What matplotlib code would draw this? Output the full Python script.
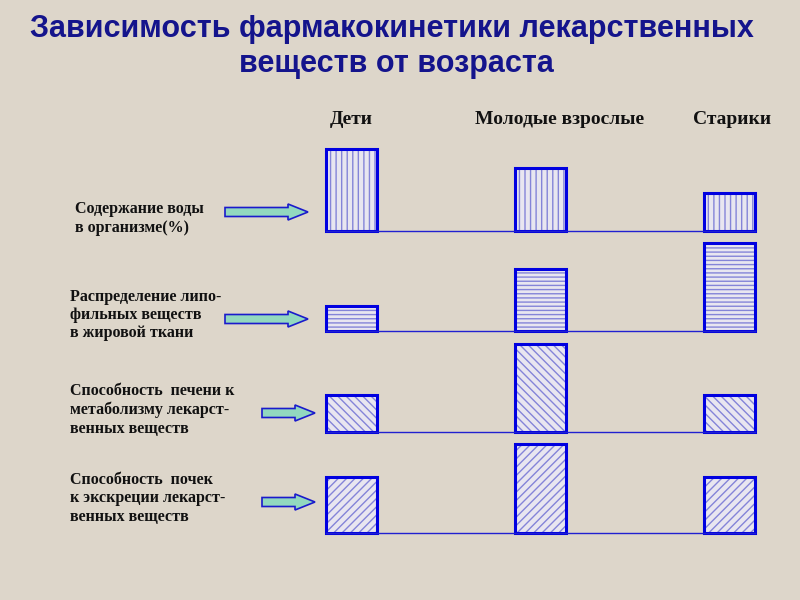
import matplotlib
matplotlib.use('Agg')
import matplotlib.pyplot as plt
from matplotlib.patches import FancyArrow

# ---- data ----
groups = ['Дети', 'Молодые взрослые', 'Старики']
row_labels = [
    'Содержание воды\nв организме(%)',
    'Распределение липо-\nфильных веществ\nв жировой ткани',
    'Способность  печени к\nметаболизму лекарст-\nвенных веществ',
    'Способность  почек\nк экскреции лекарст-\nвенных веществ',
]
water = [82, 63, 38]
lipo = [25, 62, 88]
liver = [37, 88, 37]
kidney = [56, 89, 56]
title = 'Зависимость фармакокинетики лекарственных\nвеществ от возраста'

values = [water, lipo, liver, kidney]
hatches = ['|||', '----', '\\\\\\\\', '////']

BG = '#ddd6ca'
BLUE = '#0000e0'
HATCH = '#8484d8'
FILL = '#e8e6f0'
NAVY = '#14148c'

plt.rcParams['hatch.linewidth'] = 1.0
fig = plt.figure(figsize=(8, 6), dpi=100)
fig.patch.set_facecolor(BG)

W, H = 800, 600
# overlay for text / arrows in pixel coords
ov = fig.add_axes([0, 0, 1, 1])
ov.set_xlim(0, W)
ov.set_ylim(H, 0)
ov.axis('off')
ov.patch.set_alpha(0)

ov.text(392, 29, title.split('\n')[0], ha='center', va='center',
        fontsize=22, fontweight='bold', color=NAVY, family='Liberation Sans')
ov.text(396, 64, title.split('\n')[1], ha='center', va='center',
        fontsize=22, fontweight='bold', color=NAVY, family='Liberation Sans')

header_x = [351, 560, 732]
for gx, g in zip(header_x, groups):
    ov.text(gx, 119, g, ha='center', va='center', fontsize=14,
            fontweight='bold', family='Liberation Serif', color='#111111')

label_pos = [(75, 218.5), (70, 315), (70, 410), (70, 498.5)]
for (lx, ly), lab in zip(label_pos, row_labels):
    ov.text(lx, ly, lab, ha='left', va='center', fontsize=11.5,
            fontweight='bold', family='Liberation Serif', color='#111111',
            linespacing=1.2)

arrows = [(225, 308, 212), (225, 308, 319), (262, 315, 413), (262, 315, 502)]
for x0, x1, y in arrows:
    ov.add_patch(FancyArrow(x0, y, x1 - x0, 0, width=9, head_width=16,
                            head_length=20, length_includes_head=True,
                            fc='#92d8bf', ec='#1a1acc', lw=1.2))

baselines = [231, 331, 432, 533]
x = [0, 1, 2]
bw = 0.27
for base, vals, h in zip(baselines, values, hatches):
    ax = fig.add_axes([326 / W, (H - base) / H, 429 / W, 95 / H])
    ax.patch.set_alpha(0)
    ax.set_xlim(-0.135, 2.135)
    ax.set_ylim(0, 95)
    ax.bar(x, vals, bw, color=FILL, edgecolor=HATCH, hatch=h, linewidth=0)
    ax.bar(x, vals, bw, fill=False, edgecolor=BLUE, linewidth=2.2, clip_on=False)
    for s in ['top', 'left', 'right']:
        ax.spines[s].set_visible(False)
    ax.spines['bottom'].set_color('#2020d0')
    ax.spines['bottom'].set_linewidth(1.0)
    ax.set_xticks([])
    ax.set_yticks([])

fig.savefig('out.png', dpi=100, facecolor=BG)
